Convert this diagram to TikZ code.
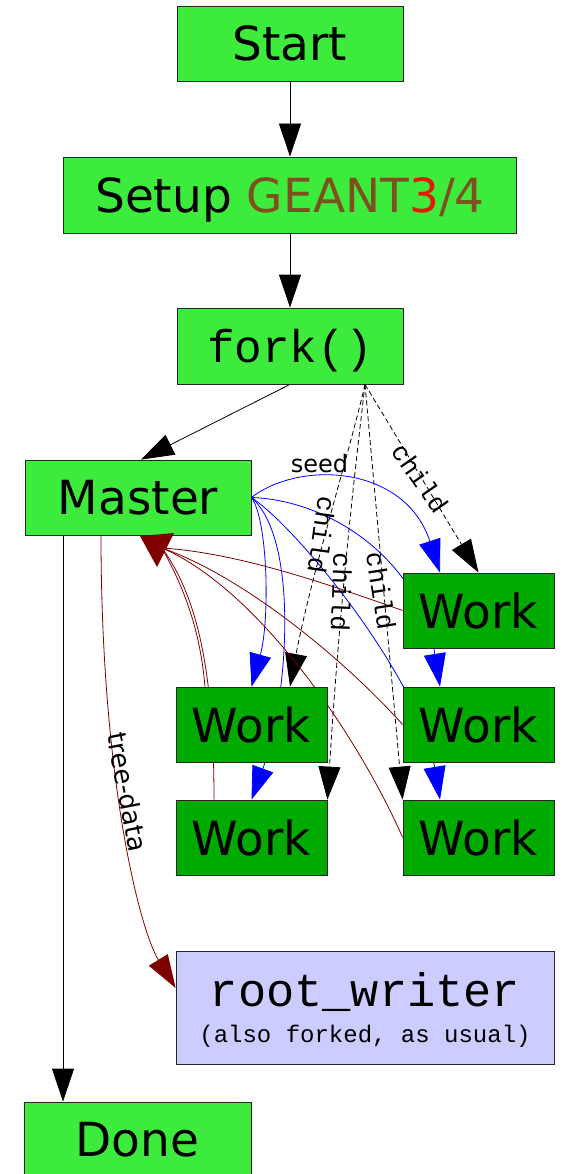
\documentclass[tikz,border=0pt]{standalone}
\usepackage{fontspec}
\setmainfont{DejaVu Sans}
\newfontfamily\monof{Liberation Mono}
\usetikzlibrary{arrows.meta,backgrounds}
\definecolor{lgreen}{RGB}{61,235,61}
\definecolor{dgreen}{RGB}{0,170,0}
\definecolor{lblue}{RGB}{204,204,255}
\definecolor{gbrown}{RGB}{125,80,30}
\definecolor{gred}{RGB}{230,25,0}
\definecolor{maroon}{RGB}{128,0,0}
\tikzset{
  box/.style={draw=black!85, line width=0.8pt, inner sep=0pt, text depth=0pt,
    font=\fontsize{47}{50}\selectfont},
  lbox/.style={box, fill=lgreen, minimum width=226pt, minimum height=75pt},
  wbox/.style={box, fill=dgreen, minimum width=151pt, minimum height=75pt},
  conn/.style={line width=0.8pt},
  bigarrow/.style={-{Triangle[length=33pt,width=22pt]}},
  dashconn/.style={conn, bigarrow, dash pattern=on 5pt off 3pt},
  bluec/.style={conn, blue, bigarrow},
  redc/.style={conn, maroon},
  cl/.style={font=\monof\fontsize{26}{26}\selectfont, inner sep=0pt},
}
\begin{document}
\begin{tikzpicture}[x=1pt, y=-1pt]
\useasboundingbox (0,0) rectangle (566,1174);

% nodes
\node[lbox] (start) at (290,43.5) {Start};
\node[lbox, minimum width=453pt, minimum height=76pt] (setup) at (290,195)
  {Setup \textcolor{gbrown}{GEANT}\textcolor{gred}{3}\textcolor{gbrown}{/4}};
\node[lbox, minimum height=76pt, font=\monof\fontsize{46}{50}\selectfont] (fork) at (290,346) {fork()};
\node[lbox] (master) at (138,497.5) {Master};
\node[wbox] (w1) at (478.5,610.5) {Work};
\node[wbox] (w2) at (251.5,724.5) {Work};
\node[wbox] (w3) at (478.5,724.5) {Work};
\node[wbox] (w4) at (251.5,837.5) {Work};
\node[wbox] (w5) at (478.5,837.5) {Work};
\node[box, fill=lblue, minimum width=378pt, minimum height=113pt, align=center,
  font=\monof\fontsize{47}{36}\selectfont] (root) at (365,1007.5)
  {root\_writer\\\fontsize{24}{36}\selectfont (also forked, as usual)};
\node[lbox, minimum width=227pt] (done) at (137.5,1139.5) {Done};

\coordinate (mred) at (162,548);

\begin{pgfonlayer}{background}
% main flow
\draw[conn, bigarrow] (start.south) -- (setup.north);
\draw[conn, bigarrow] (setup.north |- setup.south) -- (fork.north);
\draw[conn, bigarrow] (fork.south) -- ([xshift=3pt]master.north);
\draw[conn, bigarrow] ([xshift=-75pt]master.south) -- ([xshift=-74.5pt]done.north);

% child (dashed)
\draw[dashconn] ([xshift=75pt]fork.south) -- (w1.north);
\draw[dashconn] ([xshift=75pt]fork.south) .. controls (350,450) and (310,580) .. ([xshift=38.5pt]w2.north);
\draw[dashconn] ([xshift=75pt]fork.south) .. controls (355,470) and (340,600) .. (w4.north east);
\draw[dashconn] ([xshift=75pt]fork.south) -- (w5.north west);

% seed (blue)
\draw[bluec] (master.east) .. controls (300,460) and (405,465) .. ([xshift=-38.5pt]w1.north);
\draw[bluec] (master.east) .. controls (268,520) and (270,620) .. (w2.north);
\draw[bluec] (master.east) .. controls (300,540) and (288,700) .. (w4.north);
\draw[bluec] (master.east) .. controls (330,500) and (420,560) .. ([xshift=-38.5pt]w3.north);
\draw[bluec] (master.east) .. controls (300,530) and (420,680) .. ([xshift=-38.5pt]w5.north);

% results back to master (dark red)
\draw[redc] (w1.west) .. controls (330,585) and (240,553) .. (mred);
\draw[redc] (w3.west) .. controls (340,655) and (240,575) .. (mred);
\draw[redc] (w5.west) .. controls (360,740) and (260,590) .. (mred);
\draw[redc] ([xshift=-46.5pt]w2.north) .. controls (200,630) and (185,590) .. (mred);
\draw[redc] ([xshift=-37.5pt]w4.north) .. controls (214,680) and (200,600) .. (mred);

% tree-data
\draw[redc, -{Triangle[length=33pt,width=22pt]}] ([xshift=-37pt]master.south)
  .. controls (101,780) and (140,930) .. ([yshift=19.5pt]root.west);
\end{pgfonlayer}

\fill[maroon] (140,536) -- (174,533) -- (157,567) -- cycle;

% labels
\node[font=\fontsize{24}{24}\selectfont, anchor=base, inner sep=0pt] (seedl) at (319.5,472.5) {seed};
\node[cl, rotate=-98] (c1) at (322,535) {child};
\node[cl, rotate=-92] (c2) at (341.5,592) {child};
\node[cl, rotate=-81] (c3) at (381,591) {child};
\node[cl, rotate=-55] (c4) at (420,478) {child};
\node[font=\fontsize{26}{26}\selectfont, rotate=-79, inner sep=0pt] (tdl) at (128,792) {tree-data};
\end{tikzpicture}
\end{document}
